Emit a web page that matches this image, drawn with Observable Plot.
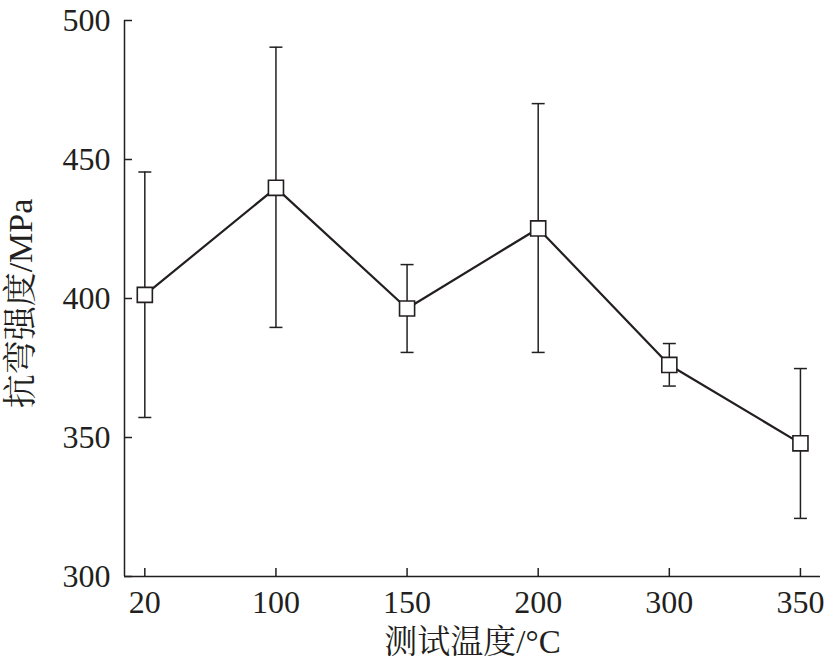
<!DOCTYPE html>
<html>
<head>
<meta charset="utf-8">
<script src="https://cdn.jsdelivr.net/npm/d3@7"></script>
<script src="https://cdn.jsdelivr.net/npm/@observablehq/plot@0.6"></script>
<style>
  html, body { margin: 0; padding: 0; background: #fff; }
  #chart svg { display: block; }
</style>
</head>
<body>
<div id="chart"></div>
<script>
const temps = ["20", "100", "150", "200", "300", "350"];
const strength = [401.3, 439.8, 396.4, 425.2, 376.1, 347.9];
const errHigh = [445.5, 490.4, 412.2, 470.1, 383.8, 374.8];
const errLow = [357.2, 389.6, 380.6, 380.6, 368.5, 320.9];
const yTicks = [300, 350, 400, 450, 500];
const xLabel = "测试温度/°C";
const yLabel = "抗弯强度/MPa";

const data = temps.map((t, i) => ({i, t, v: strength[i], hi: errHigh[i], lo: errLow[i]}));

const ink = "#231f20";
const font = "'Liberation Serif', 'Times New Roman', 'Noto Serif CJK SC', 'Noto Sans CJK SC', serif";
const xMin = -0.155, xMax = 5.153;

const capSymbol = {
  draw(context, size) {
    const r = Math.sqrt(size / Math.PI);
    context.moveTo(-r, 0);
    context.lineTo(r, 0);
  }
};

const chart = Plot.plot({
  width: 825,
  height: 665,
  marginLeft: 124,
  marginRight: 5,
  marginTop: 20,
  marginBottom: 89,
  style: {fontFamily: font, color: ink, background: "#fff"},
  x: {type: "linear", domain: [xMin, xMax]},
  y: {domain: [300, 500]},
  marks: [
    Plot.axisY({ticks: yTicks, tickSize: -8, tickPadding: 22, fontSize: 32, fontFamily: font, strokeWidth: 1.5, stroke: ink, fill: ink, label: null}),
    Plot.axisX({ticks: d3.range(temps.length), tickFormat: i => temps[i], tickSize: -8, tickPadding: 22, fontSize: 32, fontFamily: font, strokeWidth: 1.5, stroke: ink, fill: ink, label: null}),
    Plot.ruleY([300], {stroke: ink, strokeWidth: 1.5}),
    Plot.ruleX([xMin], {stroke: ink, strokeWidth: 1.5}),
    Plot.ruleX(data, {x: "i", y1: "lo", y2: "hi", stroke: ink, strokeWidth: 1.5}),
    Plot.dot(data, {x: "i", y: "hi", symbol: capSymbol, r: 6.5, stroke: ink, strokeWidth: 1.5, fill: "none"}),
    Plot.dot(data, {x: "i", y: "lo", symbol: capSymbol, r: 6.5, stroke: ink, strokeWidth: 1.5, fill: "none"}),
    Plot.line(data, {x: "i", y: "v", stroke: ink, strokeWidth: 2.2}),
    Plot.dot(data, {x: "i", y: "v", symbol: "square", r: 8.5, stroke: ink, strokeWidth: 1.6, fill: "#fff"}),
    Plot.text([xLabel], {text: d => d, frameAnchor: "bottom", textAnchor: "middle", lineAnchor: "middle", dy: 66, fontSize: 33, fontFamily: font, fill: ink}),
    Plot.text([yLabel], {text: d => d, frameAnchor: "left", textAnchor: "middle", lineAnchor: "middle", dx: -103, dy: 5, rotate: -90, fontSize: 34, fontFamily: font, fill: ink})
  ]
});
document.getElementById("chart").appendChild(chart);
</script>
</body>
</html>
